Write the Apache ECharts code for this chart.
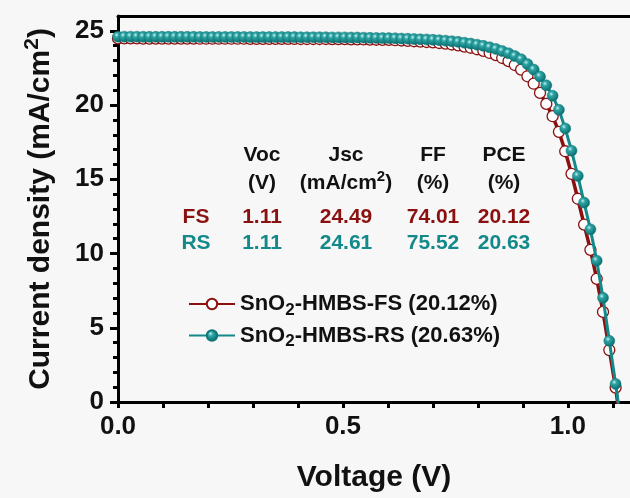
<!DOCTYPE html>
<html>
<head>
<meta charset="utf-8">
<script src="https://cdn.jsdelivr.net/npm/echarts@6/dist/echarts.min.js"></script>
<style>html,body{margin:0;padding:0;background:#f7f7f7;}#c{width:630px;height:498px;}</style>
</head>
<body>
<div id="c"></div>
<script>
// Voltage sweep (V)
const voltage = [0.000,0.014,0.028,0.042,0.056,0.070,0.084,0.098,0.112,0.126,
0.140,0.154,0.168,0.182,0.196,0.210,0.224,0.238,0.252,0.266,
0.280,0.294,0.308,0.322,0.336,0.350,0.364,0.378,0.392,0.406,
0.420,0.434,0.448,0.462,0.476,0.490,0.504,0.518,0.532,0.546,
0.560,0.574,0.588,0.602,0.616,0.630,0.644,0.658,0.672,0.686,
0.700,0.714,0.728,0.742,0.756,0.770,0.784,0.798,0.812,0.826,
0.840,0.854,0.868,0.882,0.896,0.910,0.924,0.938,0.952,0.966,
0.980,0.994,1.008,1.022,1.036,1.050,1.064,1.078,1.092,1.106,1.120];
// Current density, reverse scan (mA/cm2)
const jRS = [24.61,24.61,24.61,24.61,24.60,24.60,24.60,24.60,24.60,24.60,
24.60,24.60,24.60,24.59,24.59,24.59,24.59,24.59,24.59,24.59,
24.59,24.58,24.58,24.58,24.58,24.58,24.58,24.58,24.58,24.57,
24.57,24.57,24.57,24.57,24.56,24.56,24.56,24.55,24.55,24.54,
24.53,24.52,24.51,24.51,24.50,24.48,24.47,24.45,24.43,24.42,
24.40,24.37,24.34,24.30,24.26,24.20,24.14,24.07,23.99,23.89,
23.78,23.64,23.49,23.30,23.09,22.76,22.39,21.92,21.33,20.63,
19.68,18.43,16.93,15.23,13.43,11.63,9.52,7.02,4.12,1.22,-1.80];
// Current density, forward scan (mA/cm2)
const jFS = [24.49,24.49,24.49,24.49,24.48,24.48,24.48,24.48,24.48,24.48,
24.48,24.48,24.48,24.47,24.47,24.47,24.47,24.47,24.47,24.47,
24.47,24.46,24.46,24.46,24.46,24.46,24.46,24.46,24.46,24.45,
24.45,24.45,24.45,24.45,24.44,24.44,24.44,24.43,24.43,24.42,
24.41,24.40,24.39,24.39,24.37,24.35,24.33,24.30,24.27,24.25,
24.22,24.18,24.14,24.08,24.02,23.94,23.86,23.76,23.65,23.51,
23.36,23.17,22.96,22.70,22.39,21.94,21.44,20.82,20.08,19.25,
18.20,16.89,15.37,13.69,11.95,10.25,8.30,6.07,3.50,0.97,-2.20];

const seriesNames = ['SnO2-HMBS-FS (20.12%)', 'SnO2-HMBS-RS (20.63%)'];
const xTicks = [0, 0.1, 0.2, 0.3, 0.4, 0.5, 0.6, 0.7, 0.8, 0.9, 1.0, 1.1];
const xLabels = [0, 0.5, 1.0];
const yMajorTicks = [0, 5, 10, 15, 20, 25];
const yMinorTicks = [1,2,3,4,6,7,8,9,11,12,13,14,16,17,18,19,21,22,23,24];

// Parameter table
const tableHeaders = ['Voc', 'Jsc', 'FF', 'PCE'];
const tableUnits = ['(V)', '(mA/cm2)', '(%)', '(%)'];
const rowLabels = ['FS', 'RS'];
const fsValues = ['1.11', '24.49', '74.01', '20.12'];
const rsValues = ['1.11', '24.61', '75.52', '20.63'];

const RED = '#8b1010';
const TEAL = '#14898a';
const FONT = '"Liberation Sans", Arial, sans-serif';

const chart = echarts.init(document.getElementById('c'), null, {renderer: 'canvas'});

const colX = [262, 346, 433, 504];
const rowLabelX = 196;
const rowY = [155, 183, 217, 243];
const tSize = 21;

function txt(text, x, y, color, rich) {
  return {
    type: 'text', x: x, y: y, z: 100,
    style: {
      text: text, fill: color, align: 'center', verticalAlign: 'middle',
      fontSize: tSize, fontWeight: 'bold', fontFamily: FONT,
      rich: rich || undefined
    }
  };
}
const supRich = {
  b: {fontSize: tSize, fontWeight: 'bold', fontFamily: FONT, fill: '#111'},
  sup: {fontSize: 15, fontWeight: 'bold', fontFamily: FONT, fill: '#111', padding: [0, 0, 12, 0]}
};
const graphics = [];
tableHeaders.forEach((h, i) => graphics.push(txt(h, colX[i], rowY[0], '#111')));
tableUnits.forEach((u, i) => {
  if (u.indexOf('cm2') >= 0) {
    const parts = u.split('cm2');
    graphics.push(txt('{b|' + parts[0] + 'cm}{sup|2}{b|' + parts[1] + '}', colX[i], rowY[1], '#111', supRich));
  } else {
    graphics.push(txt(u, colX[i], rowY[1], '#111'));
  }
});
graphics.push(txt(rowLabels[0], rowLabelX, rowY[2], RED));
graphics.push(txt(rowLabels[1], rowLabelX, rowY[3], TEAL));
fsValues.forEach((v, i) => graphics.push(txt(v, colX[i], rowY[2], RED)));
rsValues.forEach((v, i) => graphics.push(txt(v, colX[i], rowY[3], TEAL)));

const fsData = voltage.map((v, i) => [v, jFS[i]]);
const rsData = voltage.map((v, i) => [v, jRS[i]]);

const X_MAX = 1.138;

const option = {
  backgroundColor: '#f7f7f7',
  animation: false,
  grid: {left: 118, top: 16, right: 0, bottom: 96, containLabel: false},
  legend: {
    left: 183, top: 288, orient: 'vertical',
    itemWidth: 46, itemHeight: 13, itemGap: 6,
    data: seriesNames,
    formatter: function (name) {
      const rest = name.replace('SnO2', '');
      return '{a|SnO}{s|2}{a|' + rest + '}';
    },
    textStyle: {
      color: '#111',
      rich: {
        a: {fontSize: 22, fontWeight: 'bold', fontFamily: FONT, color: '#111'},
        s: {fontSize: 17, fontWeight: 'bold', fontFamily: FONT, color: '#111', padding: [12, 0, 0, 0]}
      }
    }
  },
  xAxis: [{
    type: 'value', min: 0, max: X_MAX,
    name: 'Voltage (V)', nameLocation: 'middle', nameGap: 61,
    nameTextStyle: {fontSize: 30, fontWeight: 'bold', fontFamily: FONT, color: '#111'},
    axisLine: {show: true, onZero: false, lineStyle: {color: '#000', width: 3}},
    axisTick: {show: true, inside: false, length: 6, customValues: xTicks, lineStyle: {color: '#000', width: 3}},
    axisLabel: {
      margin: 12, fontSize: 26, fontWeight: 'bold', fontFamily: FONT, color: '#111',
      customValues: xLabels,
      formatter: function (v) { return Number(v).toFixed(1); }
    },
    splitLine: {show: false}
  }, {
    type: 'value', min: 0, max: X_MAX, position: 'top',
    axisLine: {show: true, onZero: false, lineStyle: {color: '#000', width: 3}},
    axisTick: {show: false}, axisLabel: {show: false}, splitLine: {show: false}
  }],
  yAxis: [{
    type: 'value', min: 0, max: 26, position: 'left',
    name: '{b|Current density (mA/cm}{sup|2}{b|)}', nameLocation: 'middle', nameGap: 58, nameRotate: 90,
    nameTextStyle: {
      color: '#111',
      rich: {
        b: {fontSize: 30, fontWeight: 'bold', fontFamily: FONT, color: '#111'},
        sup: {fontSize: 21, fontWeight: 'bold', fontFamily: FONT, color: '#111', padding: [0, 0, 17, 0]}
      }
    },
    axisLine: {show: true, onZero: false, lineStyle: {color: '#000', width: 3}},
    axisTick: {show: true, inside: false, length: 8, customValues: yMajorTicks, lineStyle: {color: '#000', width: 3}},
    axisLabel: {margin: 14, customValues: yMajorTicks, fontSize: 26, fontWeight: 'bold', fontFamily: FONT, color: '#111'},
    splitLine: {show: false}
  }, {
    type: 'value', min: 0, max: 26, position: 'left',
    axisLine: {show: false},
    axisTick: {show: true, inside: false, length: 5, customValues: yMinorTicks, lineStyle: {color: '#000', width: 3}},
    axisLabel: {show: false}, splitLine: {show: false}
  }],
  series: [{
    name: seriesNames[0], type: 'line', data: fsData, xAxisIndex: 0, yAxisIndex: 0,
    clip: true, symbol: 'circle', symbolSize: 11, showAllSymbol: true,
    lineStyle: {color: RED, width: 3.5},
    itemStyle: {color: '#ffffff', borderColor: RED, borderWidth: 1.3},
    z: 2
  }, {
    name: seriesNames[1], type: 'line', data: rsData, xAxisIndex: 0, yAxisIndex: 0,
    clip: true, symbol: 'circle', symbolSize: 11, showAllSymbol: true,
    lineStyle: {color: TEAL, width: 3},
    itemStyle: {
      color: new echarts.graphic.RadialGradient(0.38, 0.35, 0.65, [
        {offset: 0, color: '#c8f0f0'},
        {offset: 0.3, color: '#2ea5a5'},
        {offset: 1, color: '#0a6d6e'}
      ]),
      borderColor: '#0e7778', borderWidth: 0.5
    },
    z: 3
  }],
  graphic: graphics
};
chart.setOption(option);
</script>
</body>
</html>
